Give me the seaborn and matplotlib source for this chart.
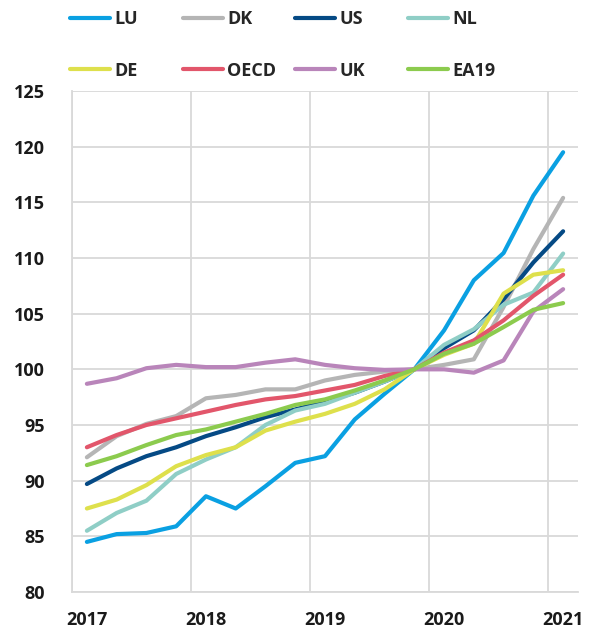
import numpy as np
import pandas as pd
import seaborn as sns
import matplotlib.pyplot as plt
from matplotlib.lines import Line2D

# quarterly index, 2019Q4 = 100
quarters = list(range(17))
year_labels = ["2017", "2018", "2019", "2020", "2021"]

lu = [84.5, 85.2, 85.3, 85.9, 88.6, 87.5, 89.5, 91.6, 92.2, 95.5, 97.8, 100.0, 103.5, 108.0, 110.45, 115.6, 119.5]
dk = [92.1, 94.0, 95.1, 95.8, 97.4, 97.7, 98.2, 98.2, 99.0, 99.5, 99.8, 100.0, 100.4, 100.9, 105.6, 110.8, 115.4]
us = [89.7, 91.1, 92.2, 93.0, 94.0, 94.8, 95.7, 96.4, 97.1, 97.9, 98.9, 100.0, 101.9, 103.5, 106.3, 109.6, 112.4]
nl = [85.5, 87.1, 88.2, 90.6, 91.9, 93.0, 95.0, 96.3, 96.9, 97.9, 98.9, 100.0, 102.2, 103.6, 105.8, 106.9, 110.4]
de = [87.5, 88.3, 89.6, 91.3, 92.3, 93.0, 94.5, 95.3, 96.0, 96.9, 98.2, 100.0, 101.3, 102.3, 106.8, 108.5, 108.9]
oecd = [93.0, 94.1, 95.0, 95.6, 96.2, 96.8, 97.3, 97.6, 98.1, 98.6, 99.4, 100.0, 101.5, 102.6, 104.4, 106.6, 108.5]
uk = [98.7, 99.2, 100.1, 100.4, 100.2, 100.2, 100.6, 100.9, 100.4, 100.1, 99.95, 100.0, 100.0, 99.7, 100.8, 105.2, 107.2]
ea19 = [91.4, 92.2, 93.2, 94.1, 94.6, 95.3, 96.0, 96.8, 97.3, 98.1, 99.0, 100.0, 101.4, 102.3, 103.8, 105.35, 105.95]

series = {"LU": lu, "DK": dk, "US": us, "NL": nl, "DE": de, "OECD": oecd, "UK": uk, "EA19": ea19}
colors = {"LU": "#0AA0E2", "DK": "#B5B5B5", "US": "#054A85", "NL": "#8FCEC6",
          "DE": "#DEE04C", "OECD": "#E2566B", "UK": "#B985BA", "EA19": "#8CCB4E"}

df = pd.DataFrame([(k, q, v) for k, vals in series.items() for q, v in zip(quarters, vals)],
                  columns=["country", "quarter", "index"])

sns.set_style("white")
plt.rcParams['font.family'] = ['Open Sans', 'DejaVu Sans']
plt.rcParams['font.weight'] = 'bold'

fig = plt.figure(figsize=(5.9, 6.31), dpi=100)
ax = fig.add_axes([72 / 590, 1 - 592 / 631, (578 - 72) / 590, (592 - 91) / 631])

sns.lineplot(data=df, x="quarter", y="index", hue="country", palette=colors,
             hue_order=list(series.keys()), linewidth=3, legend=False, ax=ax)
for ln in ax.get_lines():
    ln.set_solid_capstyle('round')

ax.set_xlim(-0.5, 16.5)
ax.set_ylim(80, 125)
ax.set_yticks(range(80, 126, 5))
ax.set_xticks([0, 4, 8, 12, 16])
ax.set_xticklabels(year_labels)
ax.set_xticks([-0.5, 3.5, 7.5, 11.5, 15.5], minor=True)
ax.grid(which='major', axis='y', color='#D9D9D9', linewidth=1.3)
ax.grid(which='minor', axis='x', color='#D9D9D9', linewidth=1.3)
ax.set_axisbelow(True)
ax.tick_params(which='both', length=0)
ax.tick_params(axis='y', pad=19.5, labelsize=13, labelcolor='#1a1a1a')
ax.tick_params(axis='x', pad=14, labelsize=13, labelcolor='#1a1a1a')
ax.set_xlabel("")
ax.set_ylabel("")
for s in ["top", "right"]:
    ax.spines[s].set_visible(False)
for s in ["left", "bottom"]:
    ax.spines[s].set_color('#D9D9D9')
    ax.spines[s].set_linewidth(1.3)

# legend: four columns of two entries
columns = [["LU", "DE"], ["DK", "OECD"], ["US", "UK"], ["NL", "EA19"]]
col_x = [70, 183, 295, 408]
for names, x0 in zip(columns, col_x):
    handles = [Line2D([], [], color=colors[n], linewidth=3, solid_capstyle='round') for n in names]
    fig.legend(handles, names, loc='upper left', bbox_to_anchor=(x0 / 590, 1 - 10 / 631),
               frameon=False, borderpad=0, borderaxespad=0, handlelength=2.2,
               handletextpad=0.25, labelspacing=1.86,
               prop={'weight': 'bold', 'size': 13})

fig.savefig("out.png", dpi=100)
